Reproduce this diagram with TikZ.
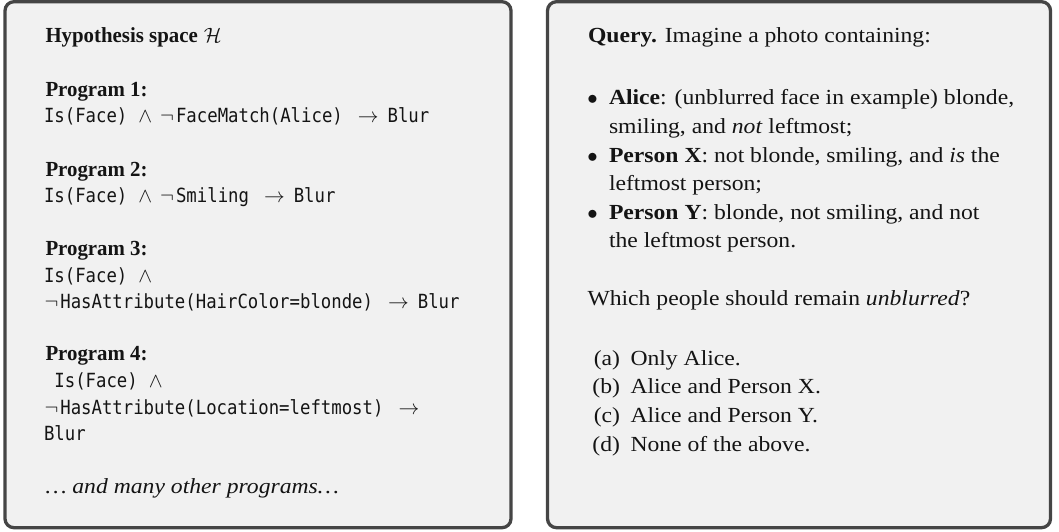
\documentclass[tikz,border=0pt]{standalone}
\usepackage{fontspec}
\setmainfont{Liberation Serif}[FakeStretch=1.1]
\setmonofont{DejaVu Sans Mono}[Scale=0.907, FakeStretch=0.888]
\newfontfamily\narrowserif{Liberation Serif}[FakeStretch=0.97]
\definecolor{panelfill}{HTML}{F1F1F1}
\definecolor{paneldraw}{HTML}{454545}
\definecolor{txt}{HTML}{141414}
\newcommand\gA{\hspace{11pt}}
\newcommand\gB{\hspace{8pt}}
\newcommand\gC{\hspace{2pt}}
\newcommand\gD{\hspace{15pt}}
\newcommand\gE{\hspace{9pt}}
\newcommand\lbold[1]{{\narrowserif\bfseries #1}}
\begin{document}
\begin{tikzpicture}[x=1pt,y=-1pt,
  panel/.style={draw=paneldraw, fill=panelfill, line width=3.3pt, rounded corners=9pt,
    rectangle, inner sep=0pt, outer sep=0pt},
  every node/.append style={inner sep=0pt, outer sep=0pt, text=txt,
    font=\fontsize{21.5}{28.7}\selectfont},
  ln/.style={anchor=base west},
  lab/.style={anchor=base east}]
\useasboundingbox (0,0) rectangle (1059,532);
\node[panel, minimum width=506pt, minimum height=526pt] (leftpanel) at (258,264.7) {};
\node[panel, minimum width=503pt, minimum height=526pt] (rightpanel) at (799,264.7) {};
% left panel
\node[ln] (hyp) at (45.5,43) {\lbold{Hypothesis space} $\mathcal{H}$};
\node[ln] (p1) at (45.5,96.7) {\lbold{Program 1:}};
\node[ln] (c1) at (44,122.5) {\texttt{Is(Face)}\gA$\wedge$\gB$\neg$\gC\texttt{FaceMatch(Alice)}\gD$\rightarrow$\gE\texttt{Blur}};
\node[ln] (p2) at (45.5,176) {\lbold{Program 2:}};
\node[ln] (c2) at (44,202.3) {\texttt{Is(Face)}\gA$\wedge$\gB$\neg$\gC\texttt{Smiling}\gD$\rightarrow$\gE\texttt{Blur}};
\node[ln] (p3) at (45.5,255.5) {\lbold{Program 3:}};
\node[ln] (c3a) at (44,282) {\texttt{Is(Face)}\gA$\wedge$};
\node[ln] (c3b) at (44.5,308.5) {$\neg$\gC\texttt{HasAttribute(HairColor=blonde)}\gD$\rightarrow$\gE\texttt{Blur}};
\node[ln] (p4) at (45.5,360.5) {\lbold{Program 4:}};
\node[ln] (c4a) at (44,387.5) {\texttt{\ Is(Face)}\gA$\wedge$};
\node[ln] (c4b) at (44.5,414) {$\neg$\gC\texttt{HasAttribute(Location=leftmost)}\gD$\rightarrow$};
\node[ln] (c4c) at (44,440.5) {\texttt{Blur}};
\node[ln] (more) at (45.5,493.5) {\textit{\ldots{} and many other programs\ldots}};
% right panel
\node[ln] (query) at (588,43) {\textbf{Query.} Imagine a photo containing:};
\node[ln] (b1) at (587.3,104.5) {$\bullet$};
\node[ln] (alice1) at (609,104.5) {\textbf{Alice}: (unblurred face in example) blonde,};
\node[ln] (alice2) at (609,133.2) {smiling, and \textit{not} leftmost;};
\node[ln] (b2) at (587.3,162) {$\bullet$};
\node[ln] (px1) at (609,162) {\textbf{Person X}: not blonde, smiling, and \textit{is} the};
\node[ln] (px2) at (609,190.7) {leftmost person;};
\node[ln] (b3) at (587.3,219.3) {$\bullet$};
\node[ln] (py1) at (609,219.3) {\textbf{Person Y}: blonde, not smiling, and not};
\node[ln] (py2) at (609,247.8) {the leftmost person.};
\node[ln] (which) at (587.5,305.5) {Which people should remain \textit{unblurred}?};
\node[lab] (la) at (620,365) {(a)};
\node[ln] (oa) at (630.5,365) {Only Alice.};
\node[lab] (lb) at (620,393.7) {(b)};
\node[ln] (ob) at (630.5,393.7) {Alice and Person X.};
\node[lab] (lc) at (620,422.4) {(c)};
\node[ln] (oc) at (630.5,422.4) {Alice and Person Y.};
\node[lab] (ld) at (620,451.1) {(d)};
\node[ln] (od) at (630.5,451.1) {None of the above.};
\end{tikzpicture}
\end{document}
